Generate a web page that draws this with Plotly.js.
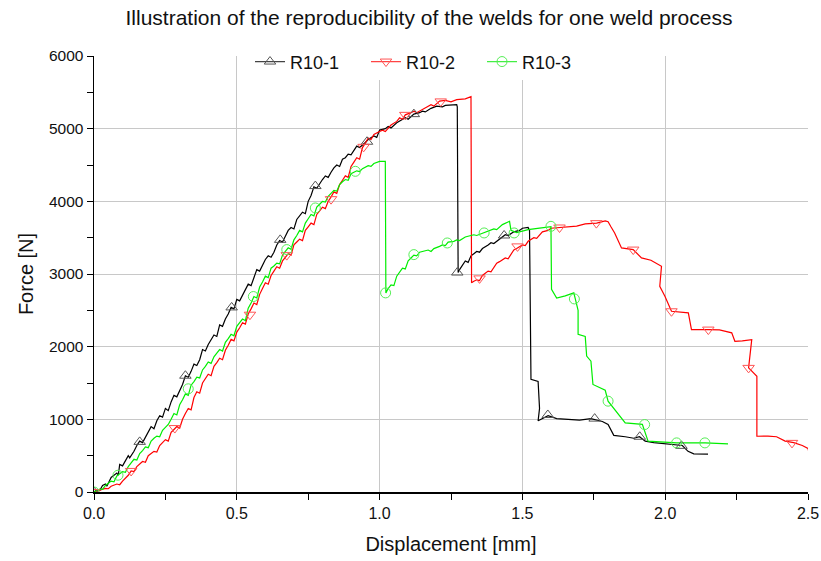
<!DOCTYPE html>
<html>
<head>
<meta charset="utf-8">
<script src="https://cdn.plot.ly/plotly-3.0.1.min.js"></script>
<style>html,body{margin:0;padding:0;background:#fff;}#chart{width:821px;height:561px;}</style>
</head>
<body>
<div id="chart"></div>
<script>
// ---- data ----
var seriesNames = ["R10-1", "R10-2", "R10-3"];

var r1X = [0,0.01,0.02,0.03,0.04,0.045,0.06,0.07,0.08,0.085,0.09,0.10,0.11,0.12,0.125,0.14,0.15,0.16,0.17,0.18,0.19,0.20,0.21,0.22,0.23,0.24,0.25,0.26,0.27,0.28,0.29,0.30,0.31,0.32,0.33,0.34,0.35,0.36,0.37,0.38,0.39,0.40,0.41,0.42,0.43,0.44,0.45,0.46,0.47,0.48,0.49,0.50,0.51,0.52,0.53,0.54,0.55,0.56,0.57,0.58,0.59,0.60,0.61,0.62,0.63,0.64,0.65,0.66,0.67,0.68,0.69,0.70,0.71,0.72,0.73,0.74,0.75,0.76,0.77,0.78,0.79,0.80,0.81,0.82,0.83,0.84,0.85,0.86,0.87,0.88,0.89,0.90,0.92,0.93,0.95,0.96,0.98,0.99,1.00,1.02,1.03,1.04,1.06,1.08,1.09,1.10,1.12,1.14,1.15,1.16,1.18,1.20,1.22,1.23,1.25,1.27,1.272,1.275,1.28,1.29,1.30,1.31,1.32,1.33,1.34,1.35,1.36,1.38,1.39,1.40,1.42,1.43,1.44,1.45,1.47,1.49,1.50,1.52,1.525,1.53,1.555,1.56,1.555,1.59,1.62,1.66,1.70,1.74,1.78,1.80,1.82,1.86,1.89,1.91,1.93,1.96,2.01,2.06,2.08,2.10,2.15];
var r1Y = [0,30,20,90,110,80,200,230,260,230,380,360,440,500,470,560,640,700,680,760,820,900,870,980,1050,1030,1150,1120,1240,1330,1310,1400,1480,1600,1580,1660,1760,1740,1820,1960,1940,2030,2100,2160,2140,2300,2280,2380,2450,2540,2520,2650,2630,2700,2790,2860,2840,2960,3060,3040,3120,3200,3250,3230,3300,3400,3460,3440,3520,3600,3640,3620,3750,3800,3850,3830,4000,4080,4200,4180,4250,4300,4350,4330,4400,4460,4500,4480,4580,4600,4650,4640,4760,4740,4810,4850,4900,4880,4980,5000,5030,5010,5080,5120,5150,5130,5200,5220,5240,5230,5280,5310,5300,5320,5330,5330,5300,3020,3060,3120,3180,3160,3250,3280,3310,3300,3350,3400,3430,3420,3480,3500,3540,3530,3580,3600,3630,3640,3600,1550,1520,1150,980,1050,1010,1000,990,1010,970,930,780,760,740,760,700,680,660,640,560,525,520];

var r2X = [0,0.02,0.03,0.04,0.05,0.06,0.08,0.09,0.10,0.11,0.12,0.13,0.14,0.15,0.16,0.17,0.18,0.19,0.20,0.21,0.22,0.23,0.24,0.25,0.26,0.27,0.28,0.29,0.30,0.31,0.32,0.33,0.34,0.35,0.36,0.37,0.38,0.39,0.40,0.41,0.42,0.43,0.44,0.45,0.46,0.47,0.48,0.49,0.50,0.51,0.52,0.53,0.54,0.55,0.56,0.57,0.58,0.59,0.60,0.61,0.62,0.63,0.64,0.65,0.66,0.67,0.68,0.69,0.70,0.71,0.72,0.73,0.74,0.75,0.76,0.77,0.78,0.79,0.80,0.81,0.82,0.83,0.84,0.85,0.86,0.87,0.88,0.89,0.90,0.91,0.92,0.93,0.94,0.95,0.96,0.97,0.98,1.00,1.01,1.02,1.04,1.06,1.07,1.08,1.09,1.11,1.12,1.13,1.15,1.17,1.18,1.19,1.21,1.23,1.25,1.27,1.30,1.32,1.322,1.33,1.34,1.35,1.36,1.37,1.38,1.39,1.41,1.42,1.44,1.45,1.47,1.48,1.50,1.51,1.52,1.54,1.55,1.57,1.59,1.60,1.63,1.66,1.69,1.72,1.76,1.79,1.80,1.81,1.823,1.847,1.888,1.917,1.95,1.987,1.981,1.999,2.022,2.081,2.092,2.15,2.19,2.233,2.244,2.27,2.303,2.292,2.321,2.321,2.36,2.39,2.42,2.45,2.48,2.50,2.505];
var r2Y = [0,20,40,50,45,80,110,100,150,190,230,290,280,350,390,420,410,500,530,560,550,640,680,720,700,820,860,900,880,1000,1080,1150,1130,1300,1380,1360,1500,1560,1620,1600,1730,1780,1840,1820,1950,2020,2100,2080,2200,2260,2330,2310,2450,2520,2600,2580,2720,2800,2880,2860,2980,3040,3100,3080,3180,3230,3280,3260,3400,3440,3480,3460,3600,3650,3700,3680,3820,3870,3920,3900,4000,4060,4130,4110,4230,4290,4350,4330,4480,4540,4600,4580,4740,4800,4870,4850,4920,4960,4980,4960,5050,5100,5150,5130,5190,5220,5240,5220,5260,5300,5330,5310,5380,5390,5370,5400,5410,5440,2880,2900,2920,2910,2980,3010,3040,3030,3150,3170,3220,3210,3330,3350,3400,3390,3450,3500,3490,3580,3600,3630,3640,3650,3660,3690,3700,3730,3720,3650,3565,3359,3336,3221,3190,3106,2831,2693,2487,2465,2235,2235,2230,2190,2074,2080,2097,1708,1593,767,770,760,700,680,640,600,520];

var r3X = [0,0.01,0.02,0.03,0.04,0.05,0.06,0.07,0.08,0.09,0.10,0.11,0.12,0.13,0.14,0.15,0.16,0.17,0.18,0.19,0.20,0.21,0.22,0.23,0.24,0.25,0.26,0.27,0.28,0.29,0.30,0.31,0.32,0.33,0.34,0.35,0.36,0.37,0.38,0.39,0.40,0.41,0.42,0.43,0.44,0.45,0.46,0.47,0.48,0.49,0.50,0.51,0.52,0.53,0.54,0.55,0.56,0.57,0.58,0.59,0.60,0.61,0.62,0.63,0.64,0.65,0.66,0.67,0.68,0.69,0.70,0.71,0.72,0.73,0.74,0.75,0.76,0.77,0.78,0.79,0.80,0.81,0.82,0.83,0.84,0.85,0.86,0.87,0.88,0.89,0.90,0.92,0.93,0.94,0.96,0.97,0.98,1.00,1.02,1.022,1.03,1.04,1.05,1.06,1.07,1.08,1.09,1.10,1.11,1.12,1.13,1.14,1.16,1.17,1.18,1.19,1.21,1.22,1.23,1.24,1.26,1.27,1.28,1.30,1.32,1.33,1.34,1.37,1.39,1.40,1.41,1.43,1.455,1.46,1.48,1.52,1.56,1.60,1.602,1.62,1.65,1.68,1.685,1.695,1.695,1.72,1.725,1.74,1.747,1.79,1.80,1.83,1.86,1.92,1.94,2.04,2.14,2.22];
var r3Y = [0,20,40,35,90,120,150,140,220,250,280,270,350,400,450,440,530,570,620,610,700,740,770,760,850,890,930,1000,1080,1060,1200,1270,1350,1330,1470,1520,1580,1570,1680,1730,1790,1770,1860,1910,1960,1940,2060,2110,2170,2150,2280,2330,2380,2360,2530,2600,2690,2670,2820,2890,2970,2950,3080,3110,3150,3140,3260,3310,3360,3340,3470,3530,3600,3580,3700,3760,3820,3800,3920,3960,4000,3990,4070,4110,4150,4140,4230,4270,4300,4290,4380,4420,4410,4450,4490,4480,4520,4550,4550,2740,2800,2850,2840,2970,3030,3080,3070,3180,3220,3260,3250,3300,3320,3330,3310,3350,3380,3400,3390,3440,3450,3470,3460,3510,3530,3540,3530,3570,3600,3620,3610,3680,3725,3600,3570,3610,3630,3650,2790,2670,2700,2740,2660,2500,2170,2140,1870,1800,1480,1400,1250,1100,950,930,700,676,676,663];

// marker positions
var r1MarkX = [0.0,0.16,0.32,0.482,0.652,0.775,0.956,1.12,1.272,1.436,1.589,1.753,1.911,2.057];
var r1MarkY = [0,690,1600,2540,3470,4210,4820,5200,3020,3530,1060,1010,760,635];
var r2MarkX = [0.0,0.13,0.283,0.546,0.675,0.83,0.944,1.09,1.214,1.35,1.483,1.63,1.759,1.888,2.022,2.151,2.292,2.444];
var r2MarkY = [0,290,880,2440,3260,4030,4750,5190,5375,2940,3380,3640,3700,3336,2487,2235,1708,676];
var r3MarkX = [0.0,0.084,0.33,0.558,0.675,0.775,0.915,1.021,1.12,1.237,1.366,1.471,1.60,1.682,1.80,1.928,2.04,2.139];
var r3MarkY = [0,231,1420,2690,3336,3909,4413,2740,3267,3427,3565,3565,3656,2657,1250,928,676,676];

// ---- styling ----
var lineColors = ["#000000", "#ff0000", "#00ee00"];
var legendLineColors = ["#444444", "#ff4444", "#44ee44"];
var markColors = ["#555555", "#ff5555", "#55ee55"];
var symbols = ["triangle-up-open", "triangle-down-open", "circle-open"];

var allX = [r1X, r2X, r3X], allY = [r1Y, r2Y, r3Y];
var mX = [r1MarkX, r2MarkX, r3MarkX], mY = [r1MarkY, r2MarkY, r3MarkY];

function withGaps(a) { var o = []; a.forEach(function (v, i) { if (i) o.push(null); o.push(v); }); return o; }

var traces = [];
for (var i = 0; i < 3; i++) {
  traces.push({x: allX[i], y: allY[i], type: "scatter", mode: "lines", showlegend: false,
    line: {color: lineColors[i], width: 1.2}, hoverinfo: "skip"});
}
for (var j = 0; j < 3; j++) {
  traces.push({x: withGaps(mX[j]), y: withGaps(mY[j]), type: "scatter", mode: "lines+markers",
    name: seriesNames[j], connectgaps: false,
    line: {color: legendLineColors[j], width: 1.2},
    marker: {symbol: symbols[j], size: 10, color: markColors[j], line: {width: 1, color: markColors[j]}}});
}

var fontFam = "'Liberation Sans', Arial, sans-serif";
var layout = {
  width: 821, height: 561,
  margin: {l: 94, r: 13, t: 56, b: 69},
  paper_bgcolor: "#ffffff", plot_bgcolor: "#ffffff",
  font: {family: fontFam, size: 15, color: "#000"},
  title: {text: "Illustration of the reproducibility of the welds for one weld process",
    font: {family: fontFam, size: 21, color: "#111"}, x: 0.5225, xanchor: "center", y: 0.969, yanchor: "middle"},
  xaxis: {range: [0, 2.5], dtick: 0.5, tick0: 0, tickformat: ".1f",
    showline: true, linecolor: "#000", linewidth: 1.5, mirror: false,
    ticks: "outside", ticklen: 6, tickwidth: 1, tickcolor: "#000",
    showgrid: true, gridcolor: "#c8c8c8", gridwidth: 1, zeroline: false,
    minor: {dtick: 0.25, ticks: "outside", ticklen: 6, tickcolor: "#000", showgrid: false},
    tickfont: {family: fontFam, size: 16, color: "#111"},
    title: {text: "Displacement [mm]", font: {family: fontFam, size: 20, color: "#111"}, standoff: 16}},
  yaxis: {range: [0, 6000], dtick: 1000, tick0: 0,
    showline: true, linecolor: "#000", linewidth: 1.5, mirror: false,
    ticks: "outside", ticklen: 6, tickwidth: 1, tickcolor: "#000",
    showgrid: true, gridcolor: "#c8c8c8", gridwidth: 1, zeroline: false,
    minor: {dtick: 500, ticks: "outside", ticklen: 6, tickcolor: "#000", showgrid: false},
    tickfont: {family: fontFam, size: 15.5, color: "#111"},
    title: {text: "Force [N]", font: {family: fontFam, size: 20, color: "#111"}, standoff: 10}},
  legend: {orientation: "h", x: 0.2185, xanchor: "left", y: 1.029, yanchor: "top",
    bgcolor: "#ffffff", borderwidth: 0, font: {family: fontFam, size: 18, color: "#111"},
    entrywidth: 71, entrywidthmode: "pixels", tracegroupgap: 0},
  showlegend: true
};

Plotly.newPlot("chart", traces, layout, {displayModeBar: false, staticPlot: true});
</script>
</body>
</html>
